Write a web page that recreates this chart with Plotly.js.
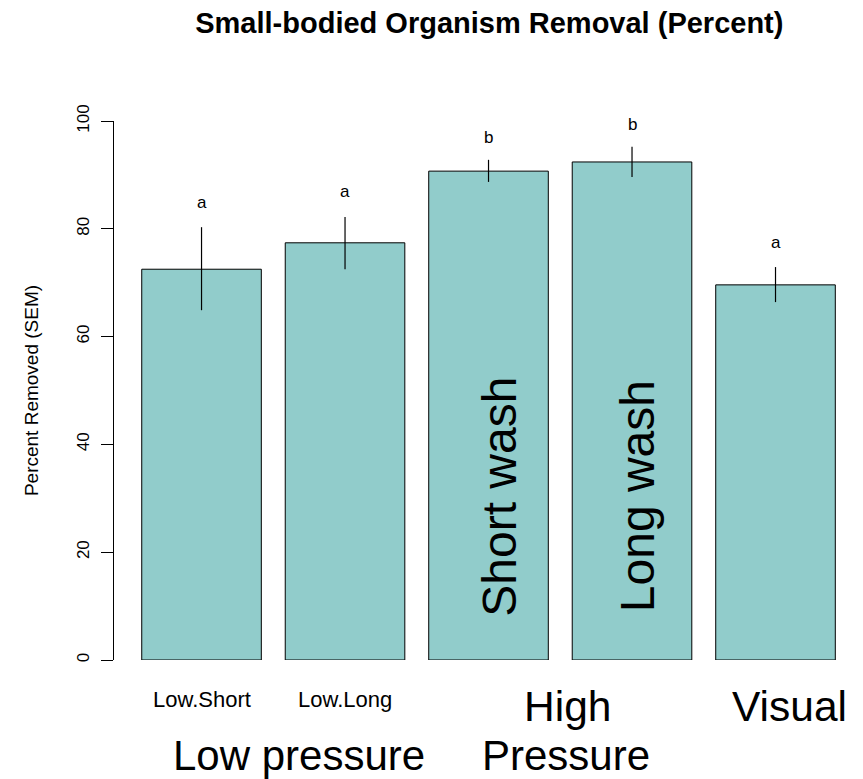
<!DOCTYPE html>
<html>
<head>
<meta charset="utf-8">
<script src="https://cdn.plot.ly/plotly-3.0.1.min.js"></script>
<style>html,body{margin:0;padding:0;background:#fff;}#chart{width:863px;height:779px;}</style>
</head>
<body>
<div id="chart"></div>
<script>
// ---- data ----
var categories = ["Low.Short", "Low.Long", "High.Short", "High.Long", "Visual"];
var percentRemoved = [72.5, 77.4, 90.7, 92.4, 69.6];
var semUpper = [7.8, 4.8, 2.1, 2.8, 3.3];
var semLower = [7.6, 4.9, 2.0, 2.8, 3.2];
var groupLetters = ["a", "a", "b", "b", "a"];
var letterY = [84.8, 87.0, 97.0, 99.4, 77.4];
var tickLabels = ["Low.Short", "Low.Long", "High", "Visual"];
var groupLabels = ["Low pressure", "Pressure"];
var insideLabels = ["Short wash", "Long wash"];

var FONT = "Liberation Sans, Arial, Helvetica, sans-serif";

var trace = {
  type: "bar",
  x: categories,
  y: percentRemoved,
  marker: { color: "#91cccb", line: { color: "#000", width: 1 } },
  error_y: {
    type: "data", symmetric: false,
    array: semUpper, arrayminus: semLower,
    color: "#000", thickness: 1.2, width: 0
  },
  hoverinfo: "x+y"
};

var ann = [];
for (var i = 0; i < categories.length; i++) {
  ann.push({ x: categories[i], y: letterY[i], xref: "x", yref: "y", text: groupLetters[i],
    showarrow: false, font: { family: FONT, size: 17, color: "#000" }, yanchor: "middle" });
}
// small tick labels under the low-pressure bars
ann.push({ x: 0, y: 0, xref: "x", yref: "y", yshift: -39, text: tickLabels[0], showarrow: false,
  font: { family: FONT, size: 22, color: "#000" }, yanchor: "middle" });
ann.push({ x: 1, y: 0, xref: "x", yref: "y", yshift: -39, text: tickLabels[1], showarrow: false,
  font: { family: FONT, size: 22, color: "#000" }, yanchor: "middle" });
// big labels
ann.push({ x: 2.55, y: 0, xref: "x", yref: "y", yshift: -46, text: tickLabels[2], showarrow: false,
  font: { family: FONT, size: 42.5, color: "#000" }, yanchor: "middle" });
ann.push({ x: 4.10, y: 0, xref: "x", yref: "y", yshift: -46, text: tickLabels[3], showarrow: false,
  font: { family: FONT, size: 42.5, color: "#000" }, yanchor: "middle" });
ann.push({ x: 0.68, y: 0, xref: "x", yref: "y", yshift: -95, text: groupLabels[0], showarrow: false,
  font: { family: FONT, size: 42, color: "#000" }, yanchor: "middle" });
ann.push({ x: 2.54, y: 0, xref: "x", yref: "y", yshift: -95, text: groupLabels[1], showarrow: false,
  font: { family: FONT, size: 42, color: "#000" }, yanchor: "middle" });
// rotated labels inside bars
ann.push({ x: categories[2], y: 30.2, xref: "x", yref: "y", xshift: 11, text: insideLabels[0], textangle: -90,
  showarrow: false, font: { family: FONT, size: 48, color: "#000" } });
ann.push({ x: categories[3], y: 30.4, xref: "x", yref: "y", xshift: 5, text: insideLabels[1], textangle: -90,
  showarrow: false, font: { family: FONT, size: 48, color: "#000" } });

var layout = {
  width: 863, height: 779,
  paper_bgcolor: "#fff", plot_bgcolor: "#fff",
  margin: { l: 114, r: 10, t: 121, b: 119 },
  showlegend: false,
  bargap: 1 / 6,
  title: { text: "<b>Small-bodied Organism Removal (Percent)</b>", x: 0.567, xanchor: "center",
    y: 0.971, yanchor: "middle", font: { family: FONT, size: 29, color: "#000" } },
  xaxis: { type: "category", range: [-0.61, 4.54], showline: false, showticklabels: false,
    ticks: "", showgrid: false, zeroline: false, fixedrange: true },
  yaxis: { range: [0, 100], tickvals: [0, 20, 40, 60, 80, 100], ticktext: ["0", "20", "40", "60", "80", "100"],
    tickangle: -90, ticks: "outside", ticklen: 12, tickwidth: 1, tickcolor: "#000",
    ticklabelstandoff: 5,
    showline: true, linecolor: "#000", linewidth: 1, showgrid: false, zeroline: false,
    tickfont: { family: FONT, size: 17, color: "#000" },
    title: { text: "Percent Removed (SEM)", standoff: 30, font: { family: FONT, size: 19, color: "#000" } },
    automargin: false, fixedrange: true },
  annotations: ann
};

Plotly.newPlot("chart", [trace], layout, { displayModeBar: false, staticPlot: true });
</script>
</body>
</html>
